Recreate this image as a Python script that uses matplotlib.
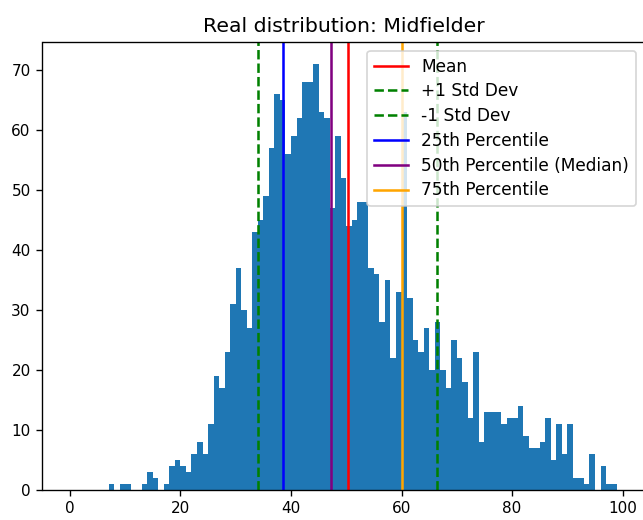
"""
Histogram of midfielder ratings with mean, std dev and percentile markers
"""

import numpy as np
import matplotlib.pyplot as plt

# Bin edges 0..99 (unit-width bins) and counts per bin
bin_edges = np.arange(0, 100)
counts = [
    0, 0, 0, 0, 0, 0, 0, 1, 0, 1,
    1, 0, 0, 1, 3, 2, 0, 1, 4, 5,
    4, 3, 6, 8, 6, 11, 19, 17, 23, 31,
    37, 30, 27, 43, 45, 49, 57, 66, 65, 56,
    59, 62, 68, 68, 71, 63, 62, 47, 59, 52,
    44, 45, 48, 48, 37, 36, 28, 35, 22, 33,
    63, 32, 25, 23, 27, 20, 28, 20, 17, 25,
    22, 18, 12, 23, 8, 13, 13, 13, 11, 12,
    12, 14, 9, 7, 7, 8, 12, 5, 11, 6,
    11, 2, 2, 1, 6, 0, 4, 1, 1,
]

# Summary statistics of the underlying ratings
mean_val = 50.26
std_val = 16.2
p25 = 38.63
p50 = 47.19
p75 = 60.0

dpi = 122
fig = plt.figure(figsize=(643 / dpi, 520 / dpi), dpi=dpi)
ax = fig.add_axes([42.5 / 643, 30.5 / 520, 602 / 643, 447.2 / 520])

centers = bin_edges[:-1] + 0.5
ax.hist(centers, bins=bin_edges, weights=counts)

ax.axvline(mean_val, color='red', linestyle='-', label='Mean')
ax.axvline(mean_val + std_val, color='green', linestyle='--', label='+1 Std Dev')
ax.axvline(mean_val - std_val, color='green', linestyle='--', label='-1 Std Dev')
ax.axvline(p25, color='blue', linestyle='-', label='25th Percentile')
ax.axvline(p50, color='purple', linestyle='-', label='50th Percentile (Median)')
ax.axvline(p75, color='orange', linestyle='-', label='75th Percentile')

ax.tick_params(labelsize=9)
ax.set_title('Real distribution: Midfielder')
ax.legend(loc='upper right', labelspacing=0.4)

plt.savefig('out.png', dpi=dpi)
